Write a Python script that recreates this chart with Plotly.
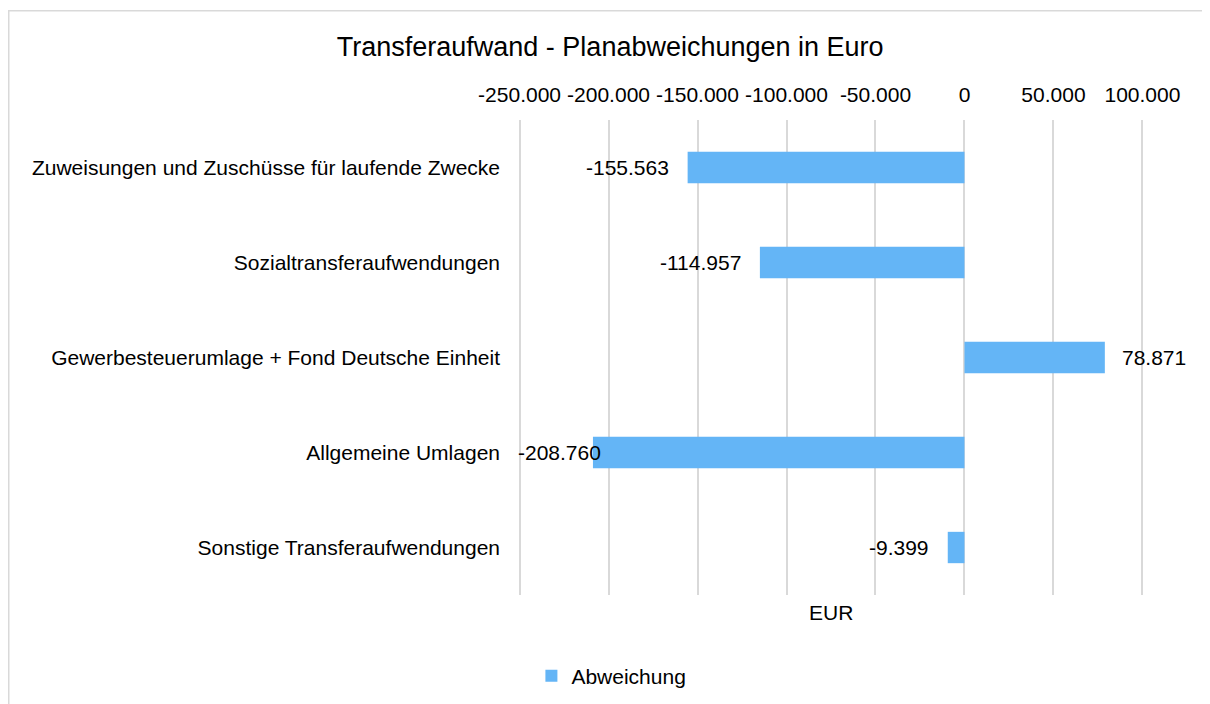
import plotly.graph_objects as go

categories = [
    "Zuweisungen und Zuschüsse für laufende Zwecke",
    "Sozialtransferaufwendungen",
    "Gewerbesteuerumlage + Fond Deutsche Einheit",
    "Allgemeine Umlagen",
    "Sonstige Transferaufwendungen",
]
abweichung = [-155563, -114957, 78871, -208760, -9399]
tick_vals = [-250000, -200000, -150000, -100000, -50000, 0, 50000, 100000]
tick_text = ["-250.000", "-200.000", "-150.000", "-100.000", "-50.000", "0", "50.000", "100.000"]


def fmt(v):
    s = f"{abs(v):,}".replace(",", ".")
    return ("-" if v < 0 else "") + s


labels = [fmt(v) for v in abweichung]

W, H = 1202, 696
x_min, x_max = -252000, 102000
ml, mr, mt, mb = 508, 64, 112, 109
pw, ph = W - ml - mr, H - mt - mb
px_per_unit = pw / (x_max - x_min)

font = "Liberation Sans, Arial, sans-serif"
FS = 21

fig = go.Figure(
    go.Bar(
        x=abweichung,
        y=categories,
        orientation="h",
        name="Abweichung",
        marker=dict(color="#64B5F6", line=dict(width=0)),
        width=0.33,
        hoverinfo="x+y",
    )
)


def py2y(p):
    return (H - mb - p) / ph


# value labels placed outside bar ends (kept inside the chart's left edge)
annotations = []
axis_left_px = (tick_vals[0] - x_min) * px_per_unit
for cat, v, lab in zip(categories, abweichung, labels):
    est_w = 0.52 * FS * len(lab)
    if v >= 0:
        annotations.append(dict(x=v, y=cat, xref="x", yref="y", text=lab,
                                xanchor="left", xshift=15, showarrow=False,
                                font=dict(size=FS, color="#000000")))
    else:
        bar_px = (v - x_min) * px_per_unit
        if bar_px - 18 - est_w < axis_left_px - 3:
            annotations.append(dict(x=tick_vals[0], y=cat, xref="x", yref="y", text=lab,
                                    xanchor="left", xshift=-4, showarrow=False,
                                    font=dict(size=FS, color="#000000")))
        else:
            annotations.append(dict(x=v, y=cat, xref="x", yref="y", text=lab,
                                    xanchor="right", xshift=-17, showarrow=False,
                                    font=dict(size=FS, color="#000000")))

annotations.append(
    dict(
        text="EUR",
        xref="paper",
        yref="paper",
        x=((tick_vals[0] + tick_vals[-1]) / 2 - x_min) / (x_max - x_min),
        y=py2y(604),
        xanchor="center",
        yanchor="middle",
        showarrow=False,
        font=dict(size=FS, color="#000000"),
    )
)

fig.update_layout(
    width=W,
    height=H,
    margin=dict(l=ml, r=mr, t=mt, b=mb, autoexpand=False),
    paper_bgcolor="white",
    plot_bgcolor="white",
    font=dict(family=font, size=FS, color="#000000"),
    title=dict(
        text="Transferaufwand - Planabweichungen in Euro",
        font=dict(size=27, color="#000000", family=font),
        xref="container",
        x=0.501,
        xanchor="center",
        yref="container",
        y=1 - 39 / H,
        yanchor="middle",
    ),
    xaxis=dict(
        side="top",
        range=[x_min, x_max],
        tickvals=tick_vals,
        ticktext=tick_text,
        showgrid=True,
        gridcolor="#D9D9D9",
        gridwidth=1.5,
        zeroline=False,
        showline=False,
        ticks="",
        ticklabelstandoff=13,
        tickfont=dict(size=FS),
    ),
    yaxis=dict(
        autorange="reversed",
        showgrid=False,
        zeroline=False,
        showline=False,
        ticks="",
        ticklabelstandoff=15,
        tickfont=dict(size=FS),
    ),
    showlegend=True,
    legend=dict(
        orientation="h",
        xref="container",
        yref="container",
        x=0.502,
        xanchor="center",
        y=1 - 668 / H,
        yanchor="middle",
        font=dict(size=FS),
        itemwidth=30,
    ),
    annotations=annotations,
    shapes=[
        dict(
            type="rect",
            xref="paper",
            yref="paper",
            x0=(0.75 - ml) / pw,
            x1=(W + 10 - ml) / pw,
            y0=py2y(H + 10),
            y1=py2y(2.75),
            line=dict(color="#D9D9D9", width=1.5),
            fillcolor="rgba(0,0,0,0)",
            layer="below",
        )
    ],
)

fig.write_html("out.html")
